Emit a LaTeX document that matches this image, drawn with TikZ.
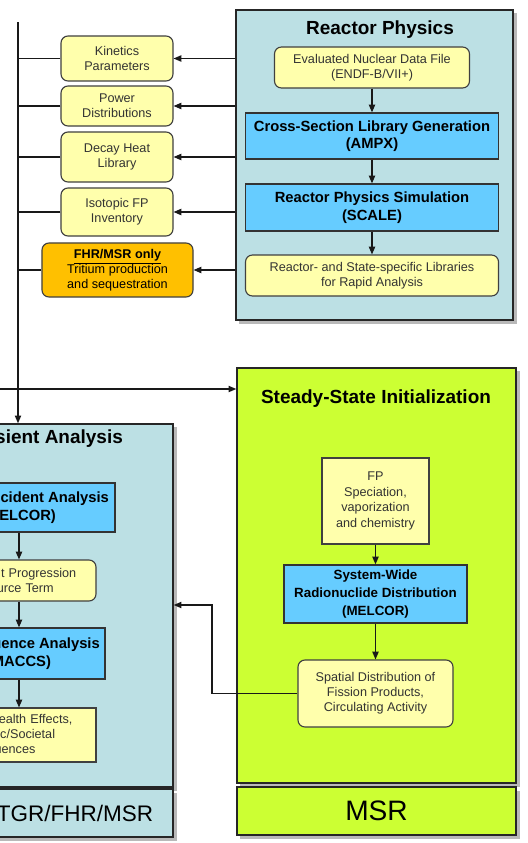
\documentclass[tikz,border=0pt]{standalone}
\usepackage{fontspec}
\setmainfont{Liberation Sans}
\usetikzlibrary{arrows.meta, shadows}
\definecolor{panelteal}{RGB}{188,224,228}
\definecolor{notebuff}{RGB}{255,255,172}
\definecolor{toolblue}{RGB}{102,204,255}
\definecolor{tritorange}{RGB}{255,192,0}
\definecolor{msrlime}{RGB}{204,255,51}

\begin{document}
\begin{tikzpicture}[x=0.025cm, y=-0.025cm,
  panel/.style={rectangle, draw=black!85, line width=1pt, inner sep=0pt, drop shadow={shadow xshift=2.5pt, shadow yshift=-2.5pt, opacity=0.55}},
  head/.style={font=\bfseries\fontsize{13.5}{16}\selectfont, inner sep=0pt},
  tag/.style={panel, font=\fontsize{20}{24}\selectfont, minimum height=1.2cm},
  note/.style={rectangle, draw=black!75, line width=0.8pt, fill=notebuff, text=black!80, align=center, inner sep=2pt, font=\fontsize{9}{10.7}\selectfont},
  rnd/.style={rounded corners=5pt},
  tool/.style={rectangle, draw=black!80, line width=0.9pt, fill=toolblue, align=center, inner sep=2pt, font=\bfseries\fontsize{10.5}{12.5}\selectfont},
  outbox/.style={note, rnd, minimum width=2.8cm},
  arrow/.style={-{Triangle[length=5.5pt, width=4.5pt]}, line width=0.8pt, black!90},
  link/.style={line width=0.8pt, black!90},
]
  \useasboundingbox (0,0) rectangle (527,843);
  \clip (0,0) rectangle (527,843);

  \node[panel, fill=panelteal, minimum width=6.925cm, minimum height=7.75cm] (rp) at (374.5,165) {};
  \node[head] (rphead) at (380,30) {Reactor Physics};
  \node[note, rnd, minimum width=4.875cm, minimum height=1.025cm] (endf) at (372,67.5) {Evaluated Nuclear Data File\\(ENDF-B/VII+)};
  \node[tool, minimum width=6.325cm, minimum height=1.15cm] (ampx) at (372,136) {Cross-Section Library Generation\\(AMPX)};
  \node[tool, minimum width=6.325cm, minimum height=1.175cm] (scale) at (372,207.5) {Reactor Physics Simulation\\(SCALE)};
  \node[note, rnd, minimum width=6.325cm, minimum height=1.025cm] (libs) at (372,275.5) {Reactor- and State-specific Libraries\\for Rapid Analysis};

  \node[outbox, minimum height=1.125cm] (kin) at (117,58.5) {Kinetics\\Parameters};
  \node[outbox, minimum height=1.0cm] (pow) at (117,106) {Power\\Distributions};
  \node[outbox, minimum height=1.25cm] (decay) at (117,157) {Decay Heat\\Library};
  \node[outbox, minimum height=1.2cm] (iso) at (117,212) {Isotopic FP\\Inventory};
  \node[note, rnd, fill=tritorange, text=black, minimum width=3.775cm, minimum height=1.35cm] (trit) at (117.5,270) {\textbf{\underline{FHR/MSR only}}\\Tritium production\\and sequestration};

  \node[panel, fill=msrlime, minimum width=6.975cm, minimum height=10.375cm] (ss) at (376.5,575.5) {};
  \node[head] (sshead) at (376,399) {Steady-State Initialization};
  \node[note, minimum width=2.675cm, minimum height=2.15cm, font=\fontsize{9}{11.2}\selectfont] (fp) at (375.5,501) {FP\\Speciation,\\vaporization\\and chemistry};
  \node[tool, minimum width=4.575cm, minimum height=1.45cm, font=\bfseries\fontsize{9.5}{12.5}\selectfont] (sysw) at (375.5,594) {System-Wide\\Radionuclide Distribution\\(MELCOR)};
  \node[note, rnd, minimum width=3.875cm, minimum height=1.675cm] (spatial) at (375.5,693.5) {Spatial Distribution of\\Fission Products,\\Circulating Activity};
  \node[tag, fill=msrlime, minimum width=6.975cm] (msrtag) at (376.5,811) {MSR};

  \node[panel, fill=panelteal, minimum width=6.4cm, minimum height=9.075cm] (tr) at (45,605.5) {};
  \node[head] (trhead) at (39,439) {Transient Analysis};
  \node[tool, minimum width=4.8cm, minimum height=1.225cm] (melcor) at (19,507.5) {Severe Accident Analysis\\(MELCOR)};
  \node[note, rnd, align=left, text width=3.15cm, minimum width=3.85cm, minimum height=1.025cm] (prog) at (19,580.5) {Accident Progression\\and Source Term};
  \node[tool, minimum width=4.3cm, minimum height=1.275cm] (maccs) at (19,653.5) {Consequence Analysis\\(MACCS)};
  \node[note, align=left, text width=3.4cm, minimum width=3.85cm, minimum height=1.35cm] (health) at (19,735) {Public Health Effects,\\Economic/Societal\\Consequences};
  \node[tag, fill=panelteal, minimum width=6.4cm, text width=5.4cm, align=right, font=\fontsize{16}{20}\selectfont] (trtag) at (45,813) {HTGR/FHR/MSR};

  \coordinate (bus) at (18,22);
  \coordinate (feed) at (-20,389);
  \coordinate (fbk) at (212,605);

  \draw[arrow] (endf) -- (ampx);
  \draw[arrow] (ampx) -- (scale);
  \draw[arrow] (scale) -- (libs);
  \foreach \n in {kin,pow,decay,iso,trit}
    \draw[arrow] (rp.west |- \n.east) -- (\n.east);
  \foreach \n in {kin,pow,decay,iso,trit}
    \draw[link] (\n.west) -- (\n.west -| bus);
  \draw[arrow] (bus) -- (bus |- tr.north);
  \draw[arrow] (feed) -- (feed -| ss.west);
  \draw[arrow] (fp) -- (sysw);
  \draw[arrow] (sysw) -- (spatial);
  \draw[arrow] (spatial.west) -| (fbk) -- (fbk -| tr.east);
  \draw[arrow] (melcor) -- (prog);
  \draw[arrow] (prog) -- (maccs);
  \draw[arrow] (maccs) -- (health);
\end{tikzpicture}
\end{document}
